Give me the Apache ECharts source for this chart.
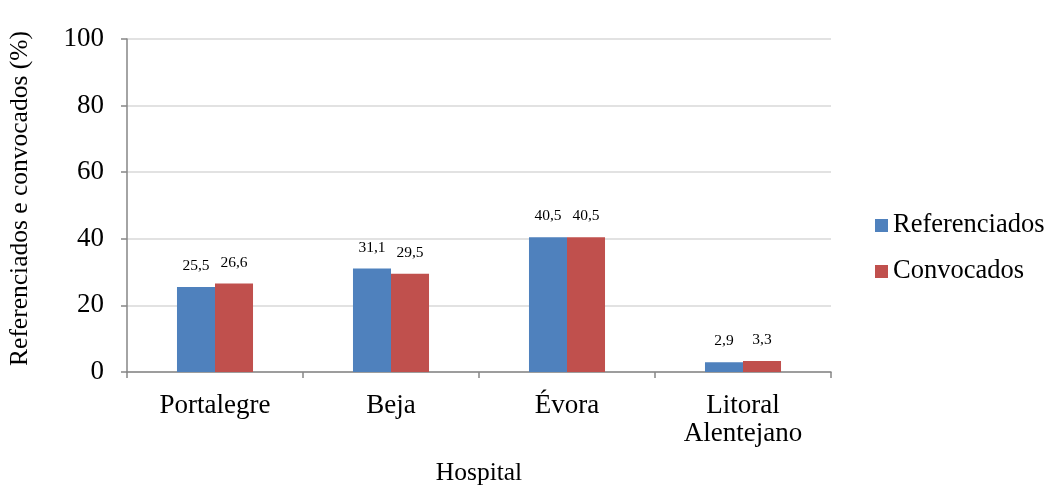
<!DOCTYPE html>
<html>
<head>
<meta charset="utf-8">
<script src="https://cdn.jsdelivr.net/npm/echarts@6/dist/echarts.min.js"></script>
<style>
  html, body { margin: 0; padding: 0; background: #fff; }
  #chart { width: 1047px; height: 487px; }
</style>
</head>
<body>
<div id="chart"></div>
<script>
// Hospitals and percentage of referred / summoned patients
const hospitals = ['Portalegre', 'Beja', 'Évora', 'Litoral\nAlentejano'];
const referenciados = [25.5, 31.1, 40.5, 2.9];
const convocados = [26.6, 29.5, 40.5, 3.3];
const yTicks = [0, 20, 40, 60, 80, 100];

const serif = 'Liberation Serif';
const fmt = p => p.value.toFixed(1).replace('.', ',');

const chart = echarts.init(document.getElementById('chart'));
chart.setOption({
  animation: false,
  textStyle: { fontFamily: serif, color: '#000' },
  grid: { left: 127, right: 216, top: 39, bottom: 115, outerBoundsMode: 'none', containLabel: false },
  legend: {
    orient: 'vertical',
    left: 870,
    top: 207,
    itemWidth: 13,
    itemHeight: 13,
    itemGap: 19,
    icon: 'rect',
    textStyle: { fontFamily: serif, fontSize: 26.5, color: '#000' },
    data: ['Referenciados', 'Convocados']
  },
  xAxis: {
    type: 'category',
    data: hospitals,
    name: 'Hospital',
    nameLocation: 'middle',
    nameGap: 88,
    nameTextStyle: { fontFamily: serif, fontSize: 25.5, color: '#000' },
    axisLine: { lineStyle: { color: '#868686', width: 1.5 } },
    axisTick: { show: true, length: 6, lineStyle: { color: '#868686', width: 1.5 } },
    axisLabel: { fontFamily: serif, fontSize: 27, color: '#000', margin: 20, lineHeight: 28 }
  },
  yAxis: {
    type: 'value',
    min: yTicks[0],
    max: yTicks[yTicks.length - 1],
    interval: 20,
    name: 'Referenciados e convocados (%)',
    nameLocation: 'middle',
    nameGap: 94,
    nameTextStyle: { fontFamily: serif, fontSize: 25.5, color: '#000', padding: [0, 0, 0, 14] },
    axisLine: { show: true, lineStyle: { color: '#868686', width: 1.5 } },
    axisTick: { show: true, length: 6, lineStyle: { color: '#868686', width: 1.5 } },
    axisLabel: { fontFamily: serif, fontSize: 27, color: '#000', margin: 23 },
    splitLine: { lineStyle: { color: '#d9d9d9', width: 1.5 } }
  },
  series: [
    {
      name: 'Referenciados',
      type: 'bar',
      data: referenciados,
      barWidth: '21.6%',
      barGap: '0%',
      itemStyle: { color: '#4f81bd' },
      label: { show: true, position: 'top', distance: 13, formatter: fmt,
               fontFamily: serif, fontSize: 15.5, color: '#000' }
    },
    {
      name: 'Convocados',
      type: 'bar',
      data: convocados,
      barWidth: '21.6%',
      itemStyle: { color: '#c0504d' },
      label: { show: true, position: 'top', distance: 13, formatter: fmt,
               fontFamily: serif, fontSize: 15.5, color: '#000' }
    }
  ]
});
</script>
</body>
</html>
